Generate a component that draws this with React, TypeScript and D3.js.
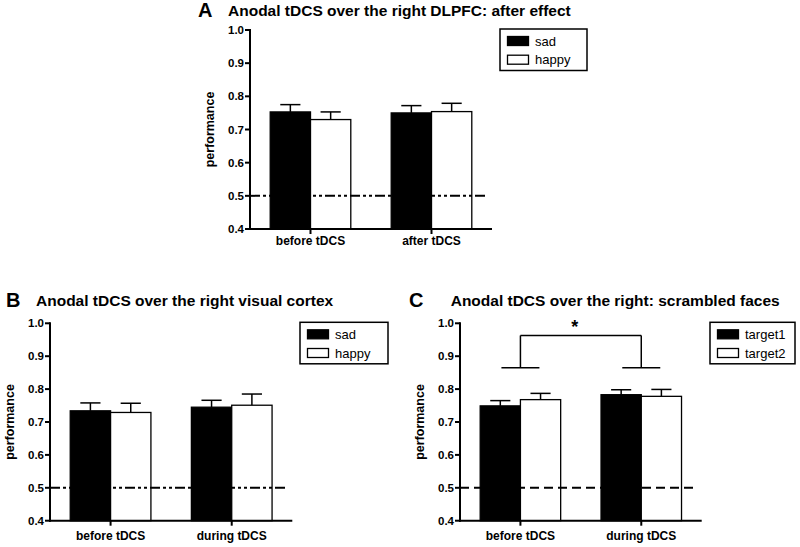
import React from "react";
import * as d3 from "d3";

const FONT = '"Liberation Sans", Arial, Helvetica, sans-serif';

const yTicks = [0.4, 0.5, 0.6, 0.7, 0.8, 0.9, 1.0];
const yDomain = [0.4, 1.0];
const chanceLevel = 0.5;

// Panel A
const aCategories = ["before tDCS", "after tDCS"];
const aSeries = ["sad", "happy"];
const aSad = [0.753, 0.75];
const aSadErr = [0.022, 0.022];
const aHappy = [0.73, 0.754];
const aHappyErr = [0.023, 0.025];

// Panel B
const bCategories = ["before tDCS", "during tDCS"];
const bSeries = ["sad", "happy"];
const bSad = [0.734, 0.745];
const bSadErr = [0.024, 0.021];
const bHappy = [0.729, 0.751];
const bHappyErr = [0.028, 0.034];

// Panel C
const cCategories = ["before tDCS", "during tDCS"];
const cSeries = ["target1", "target2"];
const cTarget1 = [0.749, 0.783];
const cTarget1Err = [0.016, 0.015];
const cTarget2 = [0.768, 0.778];
const cTarget2Err = [0.019, 0.021];
const cBracket = { top: 0.963, bottom: 0.865, star: "*" };

type PanelProps = {
  letter: string;
  title: string;
  categories: string[];
  series: string[];
  values: number[][];
  errors: number[][];
  x0: number;
  x1: number;
  yTop: number;
  yBottom: number;
  letterX: number;
  titleX: number;
  titleY: number;
  legendW: number;
  xLabelOffset: number;
  dash: string;
  bracket?: { top: number; bottom: number; star: string };
};

function Panel(p: PanelProps) {
  const y = d3.scaleLinear().domain(yDomain).range([p.yBottom, p.yTop]);
  const x = d3.scaleBand<string>().domain(p.categories).range([p.x0, p.x1]);
  const bw = x.bandwidth();
  const inner = d3
    .scaleBand<string>()
    .domain(p.series)
    .range([bw * 0.167, bw * 0.833]);
  const barW = inner.bandwidth();
  const fills = ["#000", "#fff"];
  const fmt = d3.format(".1f");
  const legX = p.x0 + 250;
  const legY = p.yTop - 1;

  return (
    <g fontFamily={FONT}>
      <text x={p.letterX} y={p.titleY + 1} fontSize={20} fontWeight="bold">
        {p.letter}
      </text>
      <text x={p.titleX} y={p.titleY} fontSize={15.5} fontWeight="bold">
        {p.title}
      </text>

      {/* bars */}
      {p.categories.map((c, ci) =>
        p.series.map((s, si) => {
          const v = p.values[si][ci];
          const e = p.errors[si][ci];
          const bx = (x(c) as number) + (inner(s) as number);
          const cx = bx + barW / 2;
          return (
            <g key={c + s}>
              <line
                x1={cx}
                x2={cx}
                y1={y(v)}
                y2={y(v + e)}
                stroke="#000"
                strokeWidth={1.5}
              />
              <line
                x1={cx - barW / 4}
                x2={cx + barW / 4}
                y1={y(v + e)}
                y2={y(v + e)}
                stroke="#000"
                strokeWidth={1.5}
              />
              <rect
                x={bx}
                y={y(v)}
                width={barW}
                height={y(yDomain[0]) - y(v)}
                fill={fills[si]}
                stroke="#000"
                strokeWidth={1.3}
              />
            </g>
          );
        })
      )}

      {/* chance line */}
      <line
        x1={p.x0}
        x2={p.x1 - 5}
        y1={y(chanceLevel)}
        y2={y(chanceLevel)}
        stroke="#000"
        strokeWidth={2}
        strokeDasharray={p.dash}
      />

      {/* significance bracket */}
      {p.bracket && (
        <g stroke="#000" strokeWidth={1.5} fill="none">
          {p.categories.map((c) => {
            const cx = (x(c) as number) + bw / 2;
            return (
              <g key={c}>
                <line x1={cx - 19} x2={cx + 19} y1={y(p.bracket!.bottom)} y2={y(p.bracket!.bottom)} />
                <line x1={cx} x2={cx} y1={y(p.bracket!.bottom)} y2={y(p.bracket!.top)} />
              </g>
            );
          })}
          <line
            x1={(x(p.categories[0]) as number) + bw / 2}
            x2={(x(p.categories[1]) as number) + bw / 2}
            y1={y(p.bracket.top)}
            y2={y(p.bracket.top)}
          />
        </g>
      )}
      {p.bracket && (
        <text
          x={(p.x0 + p.x1) / 2 - 6}
          y={y(p.bracket.top) - 2}
          fontSize={18}
          fontWeight="bold"
          textAnchor="middle"
        >
          {p.bracket.star}
        </text>
      )}

      {/* y axis */}
      <line x1={p.x0} x2={p.x0} y1={p.yTop - 1} y2={p.yBottom + 1} stroke="#000" strokeWidth={2} />
      {yTicks.map((t) => (
        <g key={t}>
          <line x1={p.x0 - 5} x2={p.x0} y1={y(t)} y2={y(t)} stroke="#000" strokeWidth={2} />
          <text
            x={p.x0 - 6}
            y={y(t)}
            dy="0.36em"
            fontSize={11.5}
            fontWeight="bold"
            textAnchor="end"
          >
            {fmt(t)}
          </text>
        </g>
      ))}
      <text
        transform={`translate(${p.x0 - 36},${(p.yTop + p.yBottom) / 2}) rotate(-90)`}
        fontSize={12.5}
        fontWeight="bold"
        textAnchor="middle"
      >
        performance
      </text>

      {/* x axis */}
      <line x1={p.x0 - 1} x2={p.x1} y1={p.yBottom} y2={p.yBottom} stroke="#000" strokeWidth={2} />
      {p.categories.map((c) => {
        const cx = (x(c) as number) + bw / 2;
        return (
          <g key={c}>
            <line x1={cx} x2={cx} y1={p.yBottom} y2={p.yBottom + 5} stroke="#000" strokeWidth={2} />
            <text
              x={cx}
              y={p.yBottom + p.xLabelOffset}
              fontSize={12}
              fontWeight="bold"
              textAnchor="middle"
            >
              {c}
            </text>
          </g>
        );
      })}

      {/* legend */}
      <rect x={legX} y={legY} width={p.legendW} height={41.5} fill="#fff" stroke="#000" strokeWidth={1.5} />
      {p.series.map((s, si) => {
        const cy = legY + 12 + si * 18.7;
        return (
          <g key={s}>
            <rect
              x={legX + 7.5}
              y={cy - 4.5}
              width={21}
              height={9}
              fill={fills[si]}
              stroke="#000"
              strokeWidth={1.3}
            />
            <text x={legX + 35} y={cy + 4.5} fontSize={13}>
              {s}
            </text>
          </g>
        );
      })}
    </g>
  );
}

export default function App() {
  return (
    <svg
      width={800}
      height={547}
      style={{ position: "absolute", left: 0, top: 0, background: "#fff" }}
    >
      <rect width={800} height={547} fill="#fff" />
      <Panel
        letter="A"
        title="Anodal tDCS over the right DLPFC: after effect"
        categories={aCategories}
        series={aSeries}
        values={[aSad, aHappy]}
        errors={[aSadErr, aHappyErr]}
        x0={250}
        x1={492}
        yTop={30}
        yBottom={229}
        letterX={198}
        titleX={228}
        titleY={15.5}
        legendW={87}
        xLabelOffset={16}
        dash="10,3,3,3,3,3"
      />
      <Panel
        letter="B"
        title="Anodal tDCS over the right visual cortex"
        categories={bCategories}
        series={bSeries}
        values={[bSad, bHappy]}
        errors={[bSadErr, bHappyErr]}
        x0={50}
        x1={292.3}
        yTop={323.3}
        yBottom={520.7}
        letterX={6}
        titleX={36}
        titleY={305.5}
        legendW={88}
        xLabelOffset={19}
        dash="10,3,3,3,3,3"
      />
      <Panel
        letter="C"
        title="Anodal tDCS over the right: scrambled faces"
        categories={cCategories}
        series={cSeries}
        values={[cTarget1, cTarget2]}
        errors={[cTarget1Err, cTarget2Err]}
        x0={460}
        x1={701.7}
        yTop={323.3}
        yBottom={520.7}
        letterX={409}
        titleX={450.7}
        titleY={305.5}
        legendW={85}
        xLabelOffset={19}
        dash="9,5"
        bracket={cBracket}
      />
    </svg>
  );
}
